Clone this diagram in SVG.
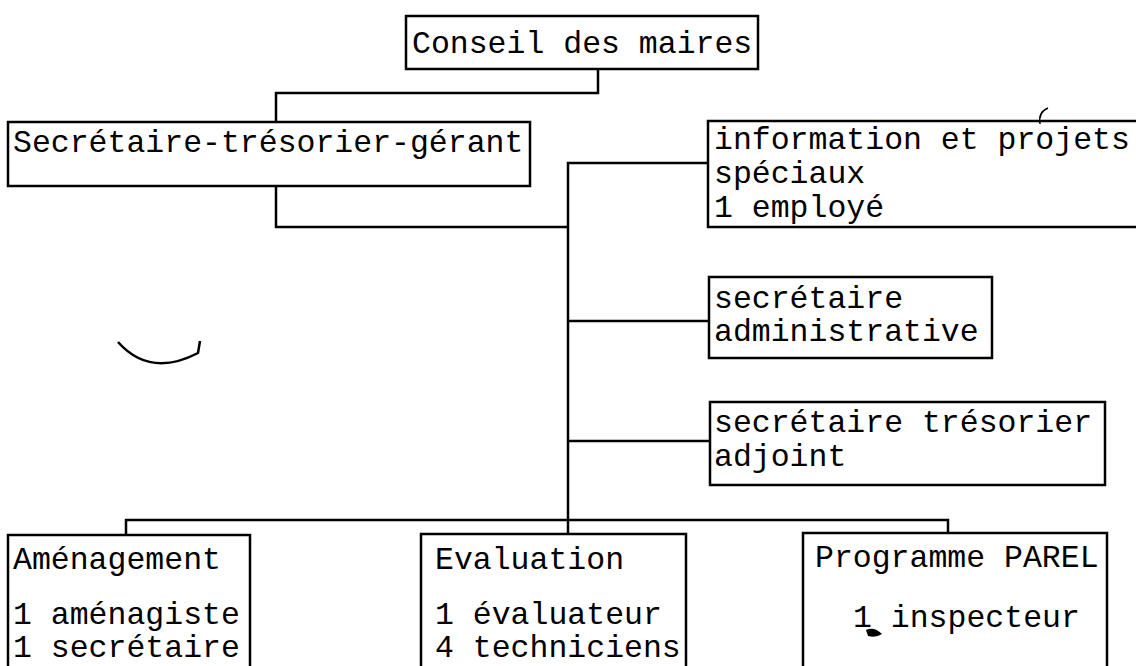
<svg xmlns="http://www.w3.org/2000/svg" width="1136" height="666" viewBox="0 0 1136 666">
<style>
.box{fill:none;stroke:#000;stroke-width:2.5}
.ln{fill:none;stroke:#000;stroke-width:2.5}
text{font-family:"Liberation Mono","Courier New",monospace;font-size:31.5px;fill:#000}
</style>
<rect width="1136" height="666" fill="#fff"/>
<g id="connectors">
<polyline class="ln" points="598,69 598,93 276,93 276,122"/>
<polyline class="ln" points="276,186 276,227 568,227"/>
<polyline class="ln" points="708,163 568,163 568,534"/>
<line class="ln" x1="568" y1="321" x2="709" y2="321"/>
<line class="ln" x1="568" y1="441" x2="710" y2="441"/>
<polyline class="ln" points="126,535 126,520 948,520 948,533"/>
</g>
<g id="conseil">
<rect class="box" x="406" y="16" width="352" height="53"/>
<text x="412" y="53">Conseil des maires</text>
</g>
<g id="secretaire-gerant">
<rect class="box" x="8" y="122" width="522" height="64"/>
<text x="13" y="152">Secrétaire-trésorier-gérant</text>
</g>
<g id="information">
<polyline class="box" points="1136,121 708,121 708,227 1136,227"/>
<text x="714" y="149">information et projets</text>
<text x="714" y="183">spéciaux</text>
<text x="714" y="217">1 employé</text>
</g>
<g id="secretaire-admin">
<rect class="box" x="709" y="277" width="283" height="81"/>
<text x="714" y="308">secrétaire</text>
<text x="714" y="341">administrative</text>
</g>
<g id="secretaire-adjoint">
<rect class="box" x="710" y="402" width="395" height="83"/>
<text x="714" y="432">secrétaire trésorier</text>
<text x="714" y="466">adjoint</text>
</g>
<g id="amenagement">
<polyline class="box" points="8,666 8,535 250,535 250,666"/>
<text x="13" y="569">Aménagement</text>
<text x="13" y="624">1 aménagiste</text>
<text x="13" y="657">1 secrétaire</text>
</g>
<g id="evaluation">
<polyline class="box" points="421,666 421,534 686,534 686,666"/>
<text x="435" y="569">Evaluation</text>
<text x="435" y="624">1 évaluateur</text>
<text x="435" y="657">4 techniciens</text>
</g>
<g id="parel">
<polyline class="box" points="803,666 803,533 1107,533 1107,666"/>
<text x="815" y="567">Programme PAREL</text>
<text x="853" y="627">1 inspecteur</text>
</g>
<path d="M118,342 Q150,378 198,353 L200,341" fill="none" stroke="#000" stroke-width="2.5"/>
<path d="M1040,124 Q1038,112 1048,108" fill="none" stroke="#000" stroke-width="1.5"/>
<path d="M866,630 q8,-4 16,4 q-6,4 -14,2 z" fill="#000"/>
</svg>
